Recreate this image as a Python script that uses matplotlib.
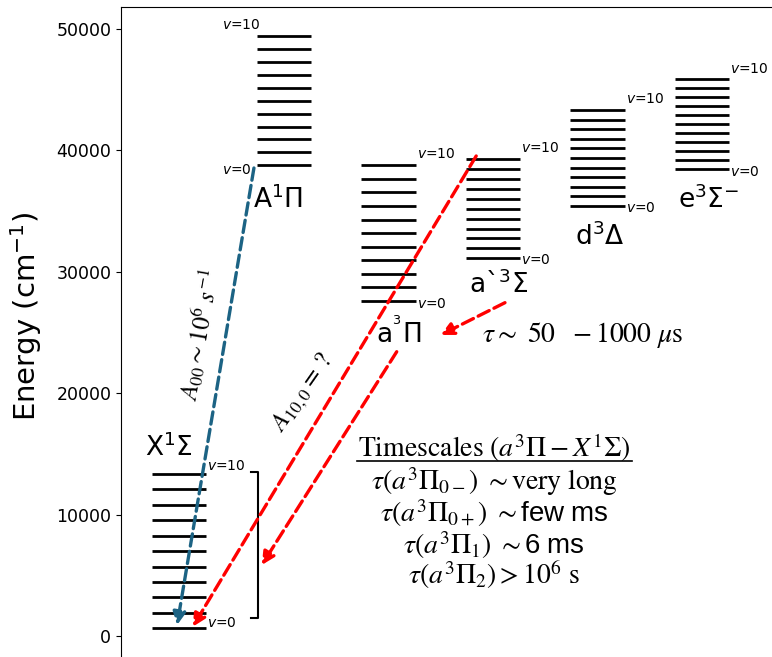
import numpy as np
import matplotlib
matplotlib.use("Agg")
import matplotlib.pyplot as plt

plt.rcParams["mathtext.fontset"] = "custom"
plt.rcParams["mathtext.rm"] = "STIXGeneral"
plt.rcParams["mathtext.it"] = "STIXGeneral:italic"
plt.rcParams["mathtext.bf"] = "STIXGeneral:bold"
plt.rcParams["mathtext.sf"] = "Liberation Sans"

# vibrational levels v=0..10 (cm^-1)
X_levels = [630, 1890, 3180, 4450, 5710, 7000, 8260, 9550, 10810, 12080, 13370]
A_levels = [38820, 39840, 40910, 41950, 43020, 44090, 45130, 46180, 47250, 48320, 49410]
a3Pi_levels = [27570, 28720, 29840, 30960, 32060, 33160, 34280, 35410, 36540, 37660, 38790]
a3Sig_levels = [31130, 31930, 32750, 33540, 34370, 35190, 36010, 36840, 37660, 38460, 39280]
d_levels = [35430, 36230, 37000, 37800, 38570, 39360, 40160, 40930, 41730, 42490, 43320]
e_levels = [38430, 39170, 39920, 40660, 41400, 42140, 42880, 43620, 44360, 45100, 45850]

states = [X_levels, A_levels, a3Pi_levels, a3Sig_levels, d_levels, e_levels]
state_names = [r"X$^1\Sigma$", r"A$^1\Pi$", r"a$^{^3}\Pi$", r"a`$^3\Sigma$", r"d$^3\Delta$", r"e$^3\Sigma^{-}$"]

yticks = [0, 10000, 20000, 30000, 40000, 50000]

timescale_lines = [
    r"$\tau(a^3\Pi_{0-})\ \sim\mathrm{very\ long}$",
    r"$\tau(a^3\Pi_{0+})\ \sim\mathsf{few\ ms}$",
    r"$\tau(a^3\Pi_1)\ \sim\mathsf{6\ ms}$",
    r"$\tau(a^3\Pi_2)>10^6\ \mathrm{s}$",
]
timescale_y = [12710, 10130, 7490, 5020]

fig = plt.figure(figsize=(7.72, 6.57), dpi=100)
ax = fig.add_axes([121 / 772, 0, 651 / 772, 650 / 657])
ax.set_xlim(-0.296, 5.928)
ax.set_ylim(-1730, 51800)

w = 0.52
for i, lev in enumerate(states):
    for e in lev:
        ax.plot([i, i + w], [e, e], color="black", lw=2, solid_capstyle="butt")

# v labels
vkw = dict(fontsize=10, va="center", math_fontfamily="dejavusans")
for i, lev in enumerate(states):
    if i == 0:
        ax.text(i + w + 0.01, lev[-1] + 630, r"$v$=10", ha="left", **vkw)
        ax.text(i + w + 0.01, lev[0] + 460, r"$v$=0", ha="left", **vkw)
    elif i == 1:
        ax.text(i + 0.04, lev[-1] + 900, r"$v$=10", ha="right", **vkw)
        ax.text(i - 0.05, lev[0] - 440, r"$v$=0", ha="right", **vkw)
    else:
        ax.text(i + w + 0.01, lev[-1] + 880, r"$v$=10", ha="left", **vkw)
        ax.text(i + w + 0.01, lev[0] - 200, r"$v$=0", ha="left", **vkw)

# state labels
label_pos = [(0.16, X_levels[-1] + 2100), (1.21, A_levels[0] - 2900),
             (2.36, a3Pi_levels[0] - 2620), (3.31, a3Sig_levels[0] - 2230),
             (4.28, d_levels[0] - 2570), (5.32, e_levels[0] - 2530)]
for (lx, ly), name in zip(label_pos, state_names):
    ax.text(lx, ly, name, fontsize=19, ha="center", va="center", math_fontfamily="dejavusans")

# transitions
blue = "#1c6384"
def arrow(x0, y0, x1, y1, c):
    ax.annotate("", xy=(x1, y1), xytext=(x0, y0),
                arrowprops=dict(arrowstyle="-|>", linestyle="--", lw=2.4, color=c,
                                mutation_scale=19, shrinkA=0, shrinkB=0))

arrow(0.975, A_levels[0] - 280, 0.24, X_levels[0] + 270, blue)
arrow(3.10, a3Sig_levels[-1] + 250, 0.39, X_levels[0] + 130, "red")
arrow(2.34, a3Pi_levels[0] - 4160, 1.05, 5850, "red")
arrow(3.375, a3Sig_levels[0] - 3680, 2.76, 24790, "red")

# bracket on X state
br_top, br_bot = 13480, 1510
ax.plot([0.946, 1.013, 1.013, 0.946], [br_top, br_top, br_bot, br_bot], color="black", lw=1.5)

# rates
ax.text(0.449, 24790, r"$A_{00}{\sim}10^6\ s^{-1}$", fontsize=18, rotation=80,
        ha="center", va="center")
ax.text(1.444, 20010, r"$A_{10,0}=\,?$", fontsize=18, rotation=55,
        ha="center", va="center")
ax.text(4.12, 24790, r"$\tau{\sim}\ 50\ \ -1000\ \mu\mathrm{s}$", fontsize=20,
        ha="center", va="center")

# timescales box
ax.text(3.27, 15480, r"$\mathrm{Timescales}\ (a^3\Pi-X^1\Sigma)$", fontsize=20,
        ha="center", va="center")
ax.plot([1.957, 4.586], [14440, 14440], color="black", lw=1.2)
for line, ty in zip(timescale_lines, timescale_y):
    ax.text(3.27, ty, line, fontsize=20, ha="center", va="center")

ax.set_yticks(yticks)
ax.tick_params(axis="y", labelsize=12.5)
ax.set_xticks([])
ax.spines["right"].set_visible(False)
ax.spines["bottom"].set_visible(False)
ax.set_ylabel(r"Energy (cm$^{-1}$)", fontsize=21, math_fontfamily="dejavusans")
ax.yaxis.set_label_coords(-77 / 651, 0.525)

fig.savefig("out.png", dpi=100)
